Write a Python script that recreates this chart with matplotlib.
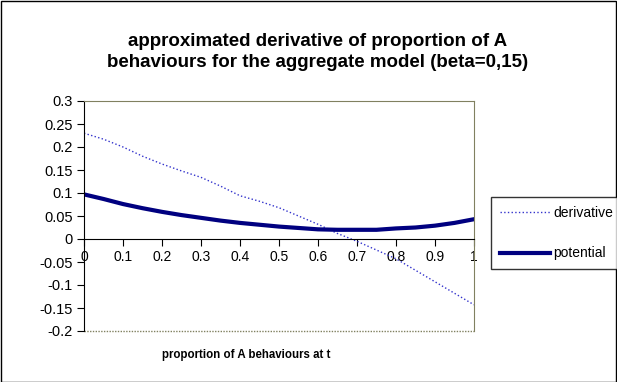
import matplotlib
matplotlib.use('Agg')
from matplotlib import pyplot as plt
from matplotlib.patches import Rectangle

plt.rcParams['font.family'] = ['Liberation Sans', 'DejaVu Sans']

x_vals = [0.0, 0.05, 0.1, 0.15, 0.2, 0.25, 0.3, 0.35, 0.4, 0.45, 0.5,
          0.55, 0.6, 0.65, 0.7, 0.75, 0.8, 0.85, 0.9, 0.95, 1.0]
derivative = [0.230, 0.217, 0.200, 0.180, 0.163, 0.148, 0.134, 0.115, 0.094, 0.082, 0.068,
              0.050, 0.032, 0.012, -0.005, -0.024, -0.043, -0.068, -0.093, -0.118, -0.143]
potential = [0.097, 0.087, 0.076, 0.067, 0.059, 0.052, 0.046, 0.040, 0.035, 0.031, 0.027,
             0.024, 0.021, 0.020, 0.020, 0.020, 0.023, 0.025, 0.029, 0.035, 0.043]
xticks = [0, 0.1, 0.2, 0.3, 0.4, 0.5, 0.6, 0.7, 0.8, 0.9, 1]
xtick_labels = ['0', '0.1', '0.2', '0.3', '0.4', '0.5', '0.6', '0.7', '0.8', '0.9', '1']
yticks = [-0.2, -0.15, -0.1, -0.05, 0, 0.05, 0.1, 0.15, 0.2, 0.25, 0.3]
ytick_labels = ['-0.2', '-0.15', '-0.1', '-0.05', '0', '0.05', '0.1', '0.15', '0.2', '0.25', '0.3']

W, H = 617, 382
fig = plt.figure(figsize=(W / 100, H / 100), dpi=100)
ax = fig.add_axes([84 / W, 1 - 331 / H, (474 - 84) / W, (331 - 101) / H])

ax.plot(x_vals, derivative, color='#3333cc', lw=1, ls=':', label='derivative')
ax.plot(x_vals, potential, color='#000080', lw=3, label='potential')

ax.set_xlim(0, 1)
ax.set_ylim(-0.2, 0.3)
ax.set_yticks(yticks)
ax.set_yticklabels(ytick_labels, fontsize=10.5)
ax.set_xticks(xticks)
ax.set_xticklabels(xtick_labels, fontsize=10.5)

for s in ['top', 'right']:
    ax.spines[s].set_color('#808060')
    ax.spines[s].set_linestyle((0, (1, 1)))
ax.spines['bottom'].set_position(('data', 0))
ax.spines['bottom'].set_color('black')
ax.spines['left'].set_color('black')
# bottom edge of plot area
ax.plot([0, 1], [0, 0], transform=ax.transAxes, color='#808060', lw=1,
        ls=(0, (1, 1)), clip_on=False)
ax.tick_params(axis='y', direction='out', length=5, pad=3)
ax.tick_params(axis='x', direction='out', length=5, pad=3)

fig.text(318 / W, 1 - 52 / H,
         'approximated derivative of proportion of A\nbehaviours for the aggregate model (beta=0,15)',
         ha='center', va='center', fontsize=13.5, fontweight='bold', linespacing=1.25)
fig.text(246 / W, 1 - 355 / H, 'proportion of A behaviours at t',
         ha='center', va='center', fontsize=8.3, fontweight='bold')

leg = fig.legend(loc='upper left', bbox_to_anchor=(491 / W, 1 - 197 / H),
                 frameon=True, fancybox=False, edgecolor='black', fontsize=10,
                 handlelength=3.6, handletextpad=0.25, labelspacing=1.9,
                 borderpad=0.65, borderaxespad=0)
leg.get_frame().set_linewidth(1)

fig.patches.append(Rectangle((0.5 / W, 0.5 / H), 1 - 1.5 / W, 1 - 1.5 / H,
                             transform=fig.transFigure, fill=False,
                             edgecolor='black', lw=1))

fig.savefig('out.png', dpi=100)
